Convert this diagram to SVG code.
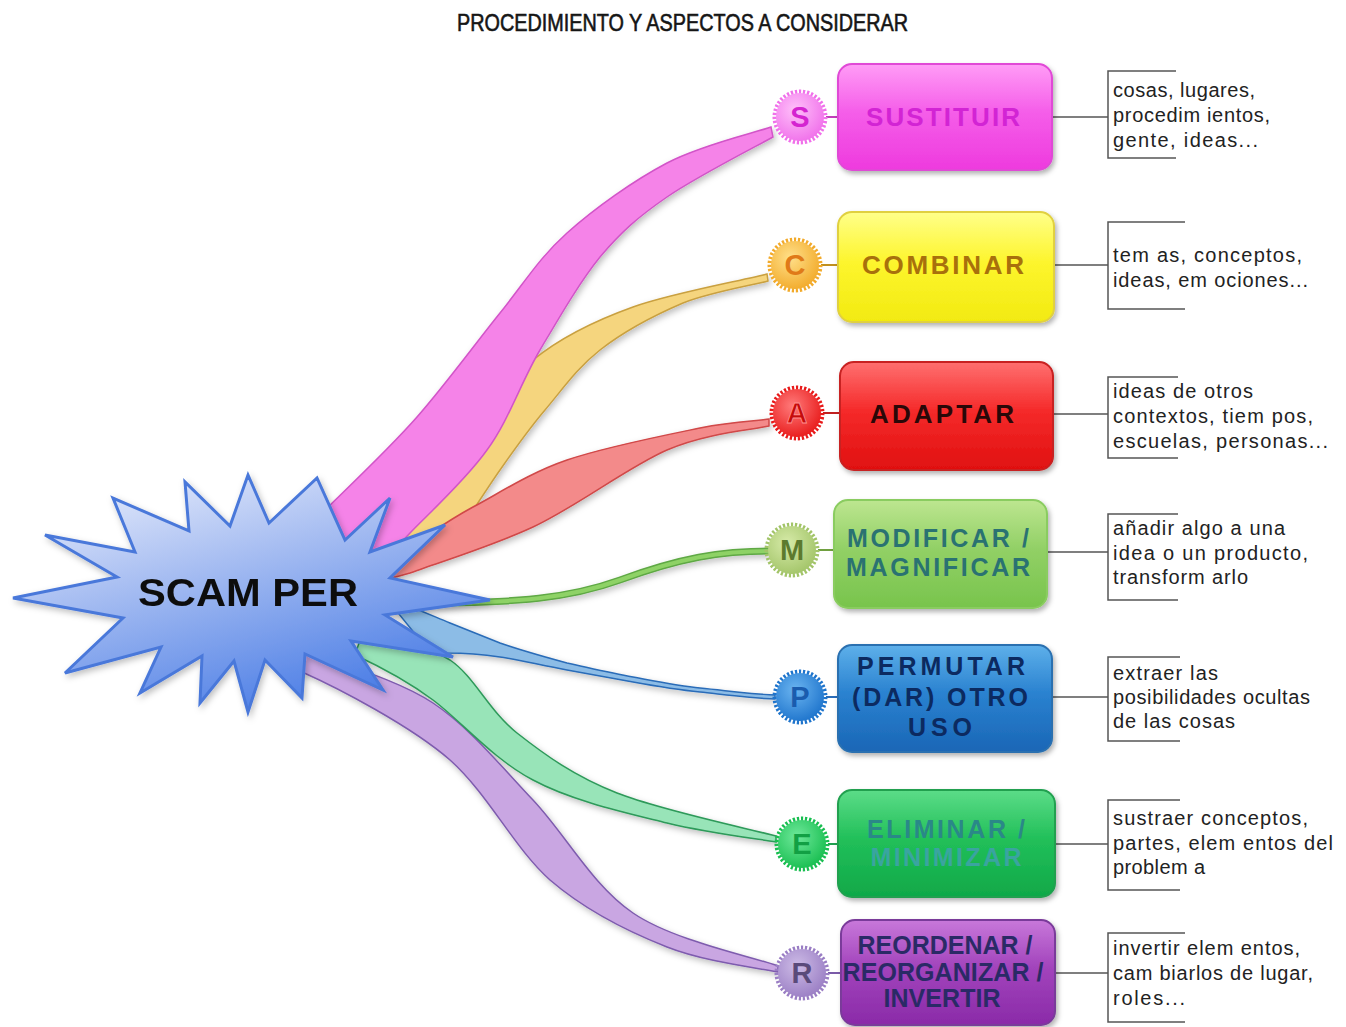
<svg xmlns="http://www.w3.org/2000/svg" width="1346" height="1027" viewBox="0 0 1346 1027">
<defs>
<style>
.title{font-family:"Liberation Sans",Arial,sans-serif;font-size:24px;fill:#151515;stroke:#151515;stroke-width:0.6;}
.lbl{font-family:"Liberation Sans",Arial,sans-serif;font-weight:bold;font-size:25px;text-anchor:middle;}
.big{font-size:26px;}
.badge{font-family:"Liberation Sans",Arial,sans-serif;font-weight:bold;font-size:29px;text-anchor:middle;}
.note{font-family:"Liberation Sans",Arial,sans-serif;font-size:20px;fill:#222;}
.br{fill:none;stroke:#555;stroke-width:1.5;}
.link{stroke:#555;stroke-width:1.5;fill:none;}
.box{stroke-width:2;filter:url(#sh);}
</style>
<filter id="sh" x="-20%" y="-20%" width="140%" height="150%">
<feDropShadow dx="2" dy="3" stdDeviation="2.5" flood-color="#000" flood-opacity="0.3"/>
</filter>
<filter id="sh2" x="-20%" y="-20%" width="140%" height="140%">
<feDropShadow dx="2" dy="3" stdDeviation="3" flood-color="#000" flood-opacity="0.25"/>
</filter>
<linearGradient id="gStar" x1="0" y1="0" x2="0.55" y2="1">
<stop offset="0" stop-color="#f3f5fd"/>
<stop offset="0.45" stop-color="#a9bff2"/>
<stop offset="1" stop-color="#4f80e6"/>
</linearGradient>
<linearGradient id="gS" x1="0" y1="0" x2="0" y2="1"><stop offset="0" stop-color="#ff9cf6"/><stop offset="0.45" stop-color="#f55ee9"/><stop offset="1" stop-color="#ee3ade"/></linearGradient>
<linearGradient id="gC" x1="0" y1="0" x2="0" y2="1"><stop offset="0" stop-color="#ffff8a"/><stop offset="0.45" stop-color="#fdf52e"/><stop offset="1" stop-color="#f2ea10"/></linearGradient>
<linearGradient id="gA" x1="0" y1="0" x2="0" y2="1"><stop offset="0" stop-color="#ff7070"/><stop offset="0.45" stop-color="#f52a2a"/><stop offset="1" stop-color="#e01010"/></linearGradient>
<linearGradient id="gM" x1="0" y1="0" x2="0" y2="1"><stop offset="0" stop-color="#bde690"/><stop offset="0.45" stop-color="#92d066"/><stop offset="1" stop-color="#78c44c"/></linearGradient>
<linearGradient id="gP" x1="0" y1="0" x2="0" y2="1"><stop offset="0" stop-color="#5eb0ea"/><stop offset="0.45" stop-color="#2a82d0"/><stop offset="1" stop-color="#1a66b6"/></linearGradient>
<linearGradient id="gE" x1="0" y1="0" x2="0" y2="1"><stop offset="0" stop-color="#5cdc88"/><stop offset="0.45" stop-color="#22c05a"/><stop offset="1" stop-color="#10a848"/></linearGradient>
<linearGradient id="gR" x1="0" y1="0" x2="0" y2="1"><stop offset="0" stop-color="#c878da"/><stop offset="0.45" stop-color="#a244bc"/><stop offset="1" stop-color="#8a2aa8"/></linearGradient>
<radialGradient id="bS" cx="0.4" cy="0.35" r="0.7"><stop offset="0" stop-color="#ffc0fa"/><stop offset="1" stop-color="#f070ea"/></radialGradient>
<radialGradient id="bC" cx="0.4" cy="0.35" r="0.7"><stop offset="0" stop-color="#ffe08a"/><stop offset="1" stop-color="#f2aa2a"/></radialGradient>
<radialGradient id="bA" cx="0.4" cy="0.35" r="0.7"><stop offset="0" stop-color="#ff7a7a"/><stop offset="1" stop-color="#e81a1a"/></radialGradient>
<radialGradient id="bM" cx="0.4" cy="0.35" r="0.7"><stop offset="0" stop-color="#d6eaa8"/><stop offset="1" stop-color="#a2c468"/></radialGradient>
<radialGradient id="bP" cx="0.4" cy="0.35" r="0.7"><stop offset="0" stop-color="#6ab4f0"/><stop offset="1" stop-color="#1e74cc"/></radialGradient>
<radialGradient id="bE" cx="0.4" cy="0.35" r="0.7"><stop offset="0" stop-color="#6ee89a"/><stop offset="1" stop-color="#18be50"/></radialGradient>
<radialGradient id="bR" cx="0.4" cy="0.35" r="0.7"><stop offset="0" stop-color="#cdbbe6"/><stop offset="1" stop-color="#9a7ec4"/></radialGradient>
</defs>
<rect width="1346" height="1027" fill="#ffffff"/>

<text class="title" x="457" y="31" textLength="451" lengthAdjust="spacingAndGlyphs">PROCEDIMIENTO Y ASPECTOS A CONSIDERAR</text>

<g id="connectors" filter="url(#sh2)">
<path d="M470,440 C480,427 506,382 533,360 C560,338 594,321 633,307 C672,293 745,280 767,274 L768,281 C754,285 711,292 683,303 C655,315 623,332 600,350 C577,368 562,390 545,410 C528,430 514,450 500,470 C486,490 467,520 460,530 L430,565 L400,545 L440,480 Z" fill="#f5d57e" stroke="#c9a040" stroke-width="1.5"/>
<path d="M330,560 L325,510 C340,495 388,450 417,417 C446,384 475,344 500,313 C525,282 539,258 567,233 C595,208 633,181 667,163 C701,145 754,133 771,127 L773,137 C755,147 696,177 667,197 C638,217 621,232 600,257 C579,283 559,318 540,350 C521,382 509,420 487,450 C465,481 423,519 410,533 L380,565 Z" fill="#f583e8" stroke="#d254c8" stroke-width="1.5"/>
<path d="M400,555 L420,540 C431,533 449,520 473,507 C498,494 529,473 567,460 C605,447 666,435 700,428 C734,421 758,421 769,419 L769,426 C752,430 706,433 667,450 C628,467 576,507 533,527 C490,547 431,565 410,573 L385,580 Z" fill="#f38a8a" stroke="#d04848" stroke-width="1.5"/>
<path d="M420,603 C520,603 570,598 620,580 C680,558 720,551 770,551" fill="none" stroke="#5ea844" stroke-width="7"/>
<path d="M420,603 C520,603 570,598 620,580 C680,558 720,551 770,551" fill="none" stroke="#8ed266" stroke-width="4"/>
<path d="M300,655 L318,655 C337,663 397,679 433,703 C469,727 500,765 533,800 C566,835 592,885 633,913 C674,941 754,957 778,966 L778,972 C759,968 705,962 667,947 C629,932 586,911 550,880 C514,848 489,795 450,760 C411,726 338,688 302,672 Z" fill="#c9a6e2" stroke="#7e5cae" stroke-width="1.5"/>
<path d="M360,640 L375,640 C388,643 426,645 450,660 C474,676 489,711 517,733 C545,755 574,776 617,793 C660,810 750,829 776,836 L776,842 C758,839 708,833 667,823 C627,813 572,801 533,780 C494,760 460,720 433,700 C406,680 381,667 355,655 Z" fill="#98e4b8" stroke="#2e9a5a" stroke-width="1.5"/>
<path d="M390,603 L400,603 C420,610 435,617 450,623 C465,629 485,637 500,643 C520,650 545,657 567,663 C590,668 610,673 633,677 C660,682 680,686 700,688 C730,691 750,694 775,695 L775,699 C750,698 720,694 700,692 C680,690 655,686 633,682 C610,678 590,674 567,670 C540,665 520,660 500,657 C480,654 465,653 447,653 L420,640 Z" fill="#8cbce6" stroke="#2a6cb8" stroke-width="1.5"/>
</g>

<g id="stems">
<line x1="826" y1="117" x2="840" y2="117" stroke="#c040b8" stroke-width="2"/>
<line x1="821" y1="265" x2="840" y2="265" stroke="#c09020" stroke-width="2"/>
<line x1="823" y1="413" x2="842" y2="413" stroke="#c02020" stroke-width="2"/>
<line x1="818" y1="550" x2="836" y2="550" stroke="#70a040" stroke-width="2"/>
<line x1="826" y1="697" x2="840" y2="697" stroke="#2a6cb8" stroke-width="2"/>
<line x1="828" y1="844" x2="840" y2="844" stroke="#20a050" stroke-width="2"/>
<line x1="828" y1="973" x2="843" y2="973" stroke="#7a5aa8" stroke-width="2"/>
<line class="link" x1="1052" y1="117" x2="1108" y2="117"/>
<line class="link" x1="1054" y1="265" x2="1108" y2="265"/>
<line class="link" x1="1053" y1="414" x2="1108" y2="414"/>
<line class="link" x1="1047" y1="552" x2="1108" y2="552"/>
<line class="link" x1="1052" y1="697" x2="1108" y2="697"/>
<line class="link" x1="1055" y1="844" x2="1108" y2="844"/>
<line class="link" x1="1055" y1="973" x2="1108" y2="973"/>
</g>

<g id="scamper" filter="url(#sh2)">
<polygon points="13,598 117,577 45,535 135,552 113,498 189,531 185,482 230,526 248,475 269,523 317,478 345,540 390,498 370,552 445,525 390,578 490,600 385,615 453,657 351,641 383,690 305,654 302,698 265,660 248,712 234,661 200,703 202,656 140,693 161,647 65,673 123,618" fill="url(#gStar)" stroke="#4a78da" stroke-width="3" stroke-linejoin="miter"/>
<text x="248" y="606" font-family="'Liberation Sans',Arial,sans-serif" font-weight="bold" font-size="38" fill="#111" text-anchor="middle" textLength="220" lengthAdjust="spacingAndGlyphs">SCAM PER</text>
</g>

<g id="node-S">
<circle cx="800" cy="117" r="25" fill="none" stroke="#f070ea" stroke-width="5" stroke-dasharray="2.2 1.8"/>
<circle cx="800" cy="117" r="24" fill="url(#bS)"/>
<text class="badge" x="800" y="127" fill="#d424d0">S</text>
<rect class="box" x="838" y="64" width="214" height="106" rx="14" fill="url(#gS)" stroke="#e048d6"/>
<text class="lbl big" x="943" y="126" fill="#d224d4" textLength="154" lengthAdjust="spacing">SUSTITUIR</text>
</g>
<g id="note-S">
<path class="br" d="M1176,71 H1108 V158 H1176"/>
<text class="note" x="1113" y="97" textLength="142" lengthAdjust="spacing">cosas, lugares,</text>
<text class="note" x="1113" y="122" textLength="157" lengthAdjust="spacing">procedim ientos,</text>
<text class="note" x="1113" y="147" textLength="145" lengthAdjust="spacing">gente, ideas...</text>
</g>

<g id="node-C">
<circle cx="795" cy="265" r="25" fill="none" stroke="#f2aa2a" stroke-width="5" stroke-dasharray="2.2 1.8"/>
<circle cx="795" cy="265" r="24" fill="url(#bC)"/>
<text class="badge" x="795" y="275" fill="#e07a18">C</text>
<rect class="box" x="838" y="212" width="216" height="110" rx="14" fill="url(#gC)" stroke="#e0d040"/>
<text class="lbl big" x="943" y="274" fill="#a8700c" textLength="162" lengthAdjust="spacing">COMBINAR</text>
</g>
<g id="note-C">
<path class="br" d="M1185,222 H1108 V309 H1185"/>
<text class="note" x="1113" y="262" textLength="189" lengthAdjust="spacing">tem as, conceptos,</text>
<text class="note" x="1113" y="287" textLength="195" lengthAdjust="spacing">ideas, em ociones...</text>
</g>

<g id="node-A">
<circle cx="797" cy="413" r="25" fill="none" stroke="#e81a1a" stroke-width="5" stroke-dasharray="2.2 1.8"/>
<circle cx="797" cy="413" r="24" fill="url(#bA)"/>
<text class="badge" x="797" y="423" fill="#c40c0c" stroke="#ff9090" stroke-width="0.8">A</text>
<rect class="box" x="840" y="362" width="213" height="108" rx="14" fill="url(#gA)" stroke="#c82020"/>
<text class="lbl big" x="942" y="423" fill="#2a0808" textLength="144" lengthAdjust="spacing">ADAPTAR</text>
</g>
<g id="note-A">
<path class="br" d="M1178,377 H1108 V458 H1178"/>
<text class="note" x="1113" y="398" textLength="140" lengthAdjust="spacing">ideas de otros</text>
<text class="note" x="1113" y="423" textLength="200" lengthAdjust="spacing">contextos, tiem pos,</text>
<text class="note" x="1113" y="448" textLength="215" lengthAdjust="spacing">escuelas, personas...</text>
</g>

<g id="node-M">
<circle cx="792" cy="550" r="25" fill="none" stroke="#a2c468" stroke-width="5" stroke-dasharray="2.2 1.8"/>
<circle cx="792" cy="550" r="24" fill="url(#bM)"/>
<text class="badge" x="792" y="560" fill="#5c7a2e">M</text>
<rect class="box" x="834" y="500" width="213" height="108" rx="14" fill="url(#gM)" stroke="#8acc60"/>
<text class="lbl" x="938" y="547" fill="#2a7272" textLength="182" lengthAdjust="spacing">MODIFICAR /</text>
<text class="lbl" x="938" y="576" fill="#2a7272" textLength="184" lengthAdjust="spacing">MAGNIFICAR</text>
</g>
<g id="note-M">
<path class="br" d="M1178,514 H1108 V600 H1178"/>
<text class="note" x="1113" y="535" textLength="172" lengthAdjust="spacing">añadir algo a una</text>
<text class="note" x="1113" y="560" textLength="195" lengthAdjust="spacing">idea o un producto,</text>
<text class="note" x="1113" y="584" textLength="135" lengthAdjust="spacing">transform arlo</text>
</g>

<g id="node-P">
<circle cx="800" cy="697" r="25" fill="none" stroke="#1e74cc" stroke-width="5" stroke-dasharray="2.2 1.8"/>
<circle cx="800" cy="697" r="24" fill="url(#bP)"/>
<text class="badge" x="800" y="707" fill="#1a5cae">P</text>
<rect class="box" x="838" y="645" width="214" height="107" rx="14" fill="url(#gP)" stroke="#2a70b0"/>
<text class="lbl" x="941" y="675" fill="#0c2a60" textLength="168" lengthAdjust="spacing">PERMUTAR</text>
<text class="lbl" x="940" y="706" fill="#0c2a60" textLength="176" lengthAdjust="spacing">(DAR) OTRO</text>
<text class="lbl" x="940" y="736" fill="#0c2a60" textLength="64" lengthAdjust="spacing">USO</text>
</g>
<g id="note-P">
<path class="br" d="M1180,657 H1108 V741 H1180"/>
<text class="note" x="1113" y="680" textLength="105" lengthAdjust="spacing">extraer las</text>
<text class="note" x="1113" y="704" textLength="197" lengthAdjust="spacing">posibilidades ocultas</text>
<text class="note" x="1113" y="728" textLength="122" lengthAdjust="spacing">de las cosas</text>
</g>

<g id="node-E">
<circle cx="802" cy="844" r="25" fill="none" stroke="#18be50" stroke-width="5" stroke-dasharray="2.2 1.8"/>
<circle cx="802" cy="844" r="24" fill="url(#bE)"/>
<text class="badge" x="802" y="854" fill="#12a044">E</text>
<rect class="box" x="838" y="790" width="217" height="107" rx="14" fill="url(#gE)" stroke="#20a050"/>
<text class="lbl" x="946" y="838" fill="#2a8888" textLength="158" lengthAdjust="spacing">ELIMINAR /</text>
<text class="lbl" x="946" y="866" fill="#3aa4a0" textLength="151" lengthAdjust="spacing">MINIMIZAR</text>
</g>
<g id="note-E">
<path class="br" d="M1180,800 H1108 V890 H1180"/>
<text class="note" x="1113" y="825" textLength="195" lengthAdjust="spacing">sustraer conceptos,</text>
<text class="note" x="1113" y="850" textLength="220" lengthAdjust="spacing">partes, elem entos del</text>
<text class="note" x="1113" y="874" textLength="92" lengthAdjust="spacing">problem a</text>
</g>

<g id="node-R">
<circle cx="802" cy="973" r="25" fill="none" stroke="#9a7ec4" stroke-width="5" stroke-dasharray="2.2 1.8"/>
<circle cx="802" cy="973" r="24" fill="url(#bR)"/>
<text class="badge" x="802" y="983" fill="#5a4a7a">R</text>
<rect class="box" x="841" y="920" width="214" height="105" rx="14" fill="url(#gR)" stroke="#7a3a9a"/>
<text class="lbl" x="945" y="954" fill="#2a2a66" font-size="22" textLength="175" lengthAdjust="spacing">REORDENAR /</text>
<text class="lbl" x="943" y="981" fill="#2a2a66" font-size="22" textLength="201" lengthAdjust="spacing">REORGANIZAR /</text>
<text class="lbl" x="942" y="1007" fill="#2a2a66" font-size="22" textLength="117" lengthAdjust="spacing">INVERTIR</text>
</g>
<g id="note-R">
<path class="br" d="M1185,933 H1108 V1022 H1185"/>
<text class="note" x="1113" y="955" textLength="187" lengthAdjust="spacing">invertir elem entos,</text>
<text class="note" x="1113" y="980" textLength="200" lengthAdjust="spacing">cam biarlos de lugar,</text>
<text class="note" x="1113" y="1005" textLength="72" lengthAdjust="spacing">roles...</text>
</g>
</svg>
